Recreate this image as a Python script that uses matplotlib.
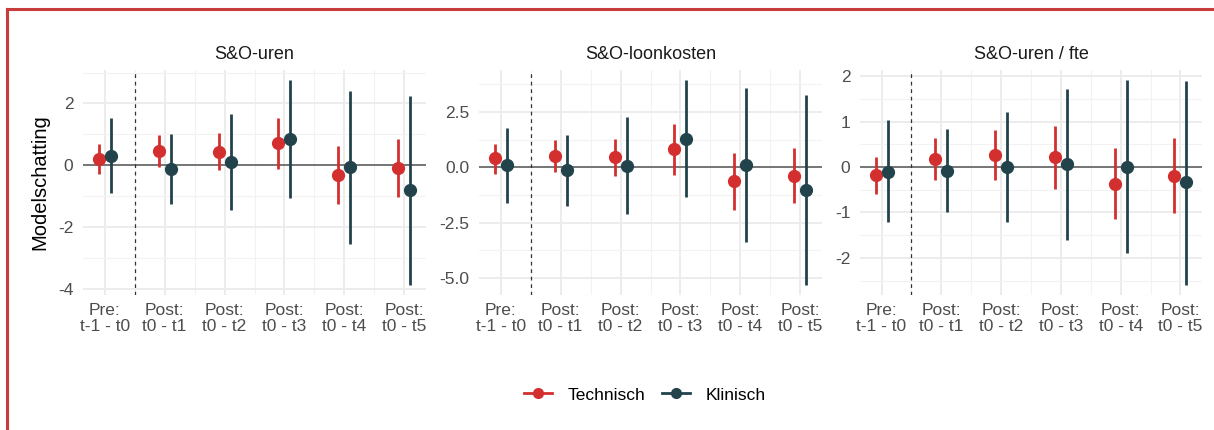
import matplotlib
matplotlib.use("Agg")
import matplotlib.pyplot as plt
from matplotlib.lines import Line2D
import numpy as np

plt.rcParams['font.family'] = ['Liberation Sans', 'DejaVu Sans']

categories = ["Pre:\nt-1 - t0", "Post:\nt0 - t1", "Post:\nt0 - t2",
              "Post:\nt0 - t3", "Post:\nt0 - t4", "Post:\nt0 - t5"]
panel_titles = ["S&O-uren", "S&O-loonkosten", "S&O-uren / fte"]
groups = ["Technisch", "Klinisch"]

# Panel 1: S&O-uren
uren_tech_est = [0.19, 0.46, 0.44, 0.71, -0.31, -0.10]
uren_tech_lo = [-0.28, -0.06, -0.17, -0.11, -1.25, -1.03]
uren_tech_hi = [0.68, 0.97, 1.05, 1.54, 0.63, 0.85]
uren_klin_est = [0.31, -0.12, 0.11, 0.86, -0.05, -0.81]
uren_klin_lo = [-0.90, -1.25, -1.44, -1.05, -2.54, -3.87]
uren_klin_hi = [1.52, 1.00, 1.65, 2.75, 2.41, 2.25]

# Panel 2: S&O-loonkosten
loon_tech_est = [0.41, 0.53, 0.45, 0.81, -0.62, -0.38]
loon_tech_lo = [-0.29, -0.20, -0.41, -0.35, -1.91, -1.62]
loon_tech_hi = [1.07, 1.25, 1.29, 1.94, 0.66, 0.89]
loon_klin_est = [0.09, -0.14, 0.06, 1.29, 0.12, -1.02]
loon_klin_lo = [-1.61, -1.76, -2.12, -1.34, -3.38, -5.31]
loon_klin_hi = [1.79, 1.47, 2.26, 3.94, 3.61, 3.26]

# Panel 3: S&O-uren / fte
fte_tech_est = [-0.18, 0.18, 0.27, 0.22, -0.37, -0.20]
fte_tech_lo = [-0.59, -0.29, -0.28, -0.48, -1.15, -1.02]
fte_tech_hi = [0.22, 0.64, 0.81, 0.90, 0.42, 0.63]
fte_klin_est = [-0.10, -0.08, 0.00, 0.06, 0.01, -0.34]
fte_klin_lo = [-1.21, -0.98, -1.22, -1.60, -1.90, -2.59]
fte_klin_hi = [1.03, 0.83, 1.22, 1.71, 1.91, 1.89]

y_ticks = [[-4, -2, 0, 2], [-5.0, -2.5, 0.0, 2.5], [-2, -1, 0, 1, 2]]
y_fmt = ["{:.0f}", "{:.1f}", "{:.0f}"]

panels = [
    ((uren_tech_est, uren_tech_lo, uren_tech_hi), (uren_klin_est, uren_klin_lo, uren_klin_hi)),
    ((loon_tech_est, loon_tech_lo, loon_tech_hi), (loon_klin_est, loon_klin_lo, loon_klin_hi)),
    ((fte_tech_est, fte_tech_lo, fte_tech_hi), (fte_klin_est, fte_klin_lo, fte_klin_hi)),
]

colors = ["#D32F2F", "#22434C"]
dodge = [-0.1, 0.1]

W, H = 1214, 430
fig = plt.figure(figsize=(W / 100, H / 100), dpi=100)
fig.patch.set_facecolor("white")

# screenshot frame
fig.add_artist(Line2D([7 / W, 7 / W], [0, 1 - 9 / H], transform=fig.transFigure,
                      color="#C83C3C", lw=2.2))
fig.add_artist(Line2D([7 / W, 1213 / W], [1 - 9 / H, 1 - 9 / H], transform=fig.transFigure,
                      color="#C83C3C", lw=2.2))

lefts = [83, 479, 860]
rights = [426, 822, 1202]
top_px, bot_px = 70, 295
x = np.arange(1, len(categories) + 1)

for i, (ax_l, ax_r) in enumerate(zip(lefts, rights)):
    ax = fig.add_axes([ax_l / W, 1 - bot_px / H, (ax_r - ax_l) / W, (bot_px - top_px) / H])
    ax.set_facecolor("white")
    for s in ax.spines.values():
        s.set_visible(False)
    ax.set_axisbelow(True)
    ax.axhline(0, color="#555555", lw=1.1, zorder=1)
    ax.axvline(1.5, color="#333333", lw=0.9, ls=(0, (3, 3)), zorder=1)
    ymin, ymax = np.inf, -np.inf
    for g in range(2):
        est, lo, hi = panels[i][g]
        est = np.array(est); lo = np.array(lo); hi = np.array(hi)
        ymin = min(ymin, lo.min()); ymax = max(ymax, hi.max())
        xs = x + dodge[g]
        ax.errorbar(xs, est, yerr=[est - lo, hi - est], fmt="o", color=colors[g],
                    ms=8.5, elinewidth=2.0, capsize=0, zorder=3)
    xmin, xmax = x[0] + dodge[0], x[-1] + dodge[1]
    xr = xmax - xmin
    yr = ymax - ymin
    ax.set_xticks(x)
    ax.set_xticklabels(categories, linespacing=1.05)
    ax.set_xticks(x[:-1] + 0.5, minor=True)
    ax.set_yticks(y_ticks[i])
    ax.set_yticklabels([y_fmt[i].format(v) for v in y_ticks[i]])
    yt = y_ticks[i]
    step = yt[1] - yt[0]
    minors = [v + step / 2 for v in yt[:-1]] + [yt[0] - step / 2, yt[-1] + step / 2]
    ax.set_yticks(minors, minor=True)
    ax.set_xlim(xmin - 0.05 * xr, xmax + 0.05 * xr)
    ax.set_ylim(ymin - 0.05 * yr, ymax + 0.05 * yr)
    ax.grid(which="major", color="#EBEBEB", lw=1.3)
    ax.grid(which="minor", color="#F2F2F2", lw=0.8)
    ax.tick_params(which="both", length=0)
    ax.tick_params(axis="y", pad=7, labelsize=12.5, labelcolor="#4D4D4D")
    ax.tick_params(axis="x", pad=6, labelsize=12.5, labelcolor="#4D4D4D")
    ax.set_title(panel_titles[i], fontsize=13, color="#1A1A1A", pad=8)
    if i == 0:
        ax.set_ylabel("Modelschatting", fontsize=14.5, color="black", labelpad=6)

handles = [Line2D([0], [0], color=c, lw=2, marker="o", ms=7) for c in colors]
fig.legend(handles, groups, loc="center", bbox_to_anchor=(645 / W, 1 - 395 / H),
           ncol=2, frameon=False, fontsize=12.5, handlelength=1.6,
           handletextpad=0.9, columnspacing=1.0)

fig.savefig("out.png", dpi=100, facecolor="white")
